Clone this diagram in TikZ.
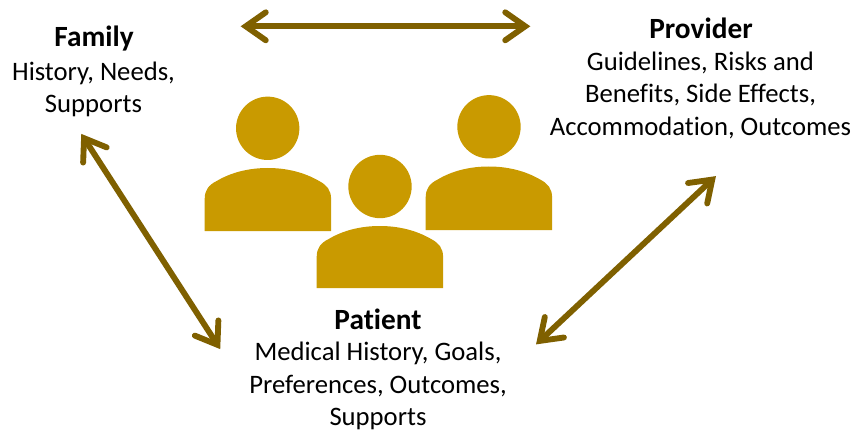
\documentclass[tikz,border=0pt]{standalone}
\usepackage{fontspec}
\setmainfont[Ligatures=NoCommon]{Carlito}
\usetikzlibrary{arrows.meta}
\definecolor{gold}{HTML}{C99A00}
\definecolor{darkgold}{HTML}{7F6000}
\tikzset{
  x=0.75pt,y=-0.75pt,
  head/.style={circle,fill=gold,inner sep=0pt,minimum size=47.5pt},
  body/.style={fill=gold},
  link/.style={draw=darkgold,line width=4.4pt,
    {Straight Barb[length=15pt,width=21pt,line width=4.4pt,line cap=round,line join=miter]}-{Straight Barb[length=15pt,width=21pt,line width=4.4pt,line cap=round,line join=miter]},shorten <=-1pt,shorten >=-1pt},
  title/.style={font=\fontsize{22}{24.6}\selectfont\bfseries,inner sep=0pt,anchor=center},
  desc/.style={font=\fontsize{20}{24.6}\selectfont,align=center,inner sep=0pt,anchor=center},
}
\newcommand{\personbody}[3]{% left x, top y, bottom y
  \fill[body] (#1,#3) -- (#1,#2+31)
    .. controls (#1,#2+22) and (#1+4,#2+17) .. (#1+12,#2+13)
    .. controls (#1+27,#2+4) and (#1+45,#2) .. (#1+63.2,#2)
    .. controls (#1+81,#2) and (#1+99,#2+4) .. (#1+114.4,#2+13)
    .. controls (#1+122,#2+17) and (#1+126.4,#2+22) .. (#1+126.4,#2+31)
    -- (#1+126.4,#3) -- cycle;}
\begin{document}
\begin{tikzpicture}
\useasboundingbox (0,0) rectangle (853,431);
\personbody{204.7}{168}{231}
\personbody{316.7}{226}{288}
\personbody{425.7}{166.5}{230}
\node[head] (hl) at (267.7,128.3) {};
\node[head] (hm) at (380,186.5) {};
\node[head] (hr) at (489,126.8) {};

\node[title] (family) at (94,38.5) {Family};
\node[desc] (familyd) at (93.5,89.3) {History, Needs,\\Supports};
\node[title] (provider) at (701,28.5) {Provider};
\node[desc] (providerd) at (700.5,95.3) {Guidelines, Risks and\\Benefits, Side Effects,\\Accommodation, Outcomes};
\node[title] (patient) at (378,319) {Patient};
\node[desc] (patientd) at (378,386) {Medical History, Goals,\\Preferences, Outcomes,\\Supports};

\coordinate (topa) at (242,26.3);
\coordinate (topb) at (529,26.3);
\coordinate (lefta) at (82,135);
\coordinate (leftb) at (219.5,348);
\coordinate (righta) at (715,177);
\coordinate (rightb) at (537,343.5);
\draw[link] (topa) -- (topb);
\draw[link] (lefta) -- (leftb);
\draw[link] (righta) -- (rightb);
\end{tikzpicture}
\end{document}
